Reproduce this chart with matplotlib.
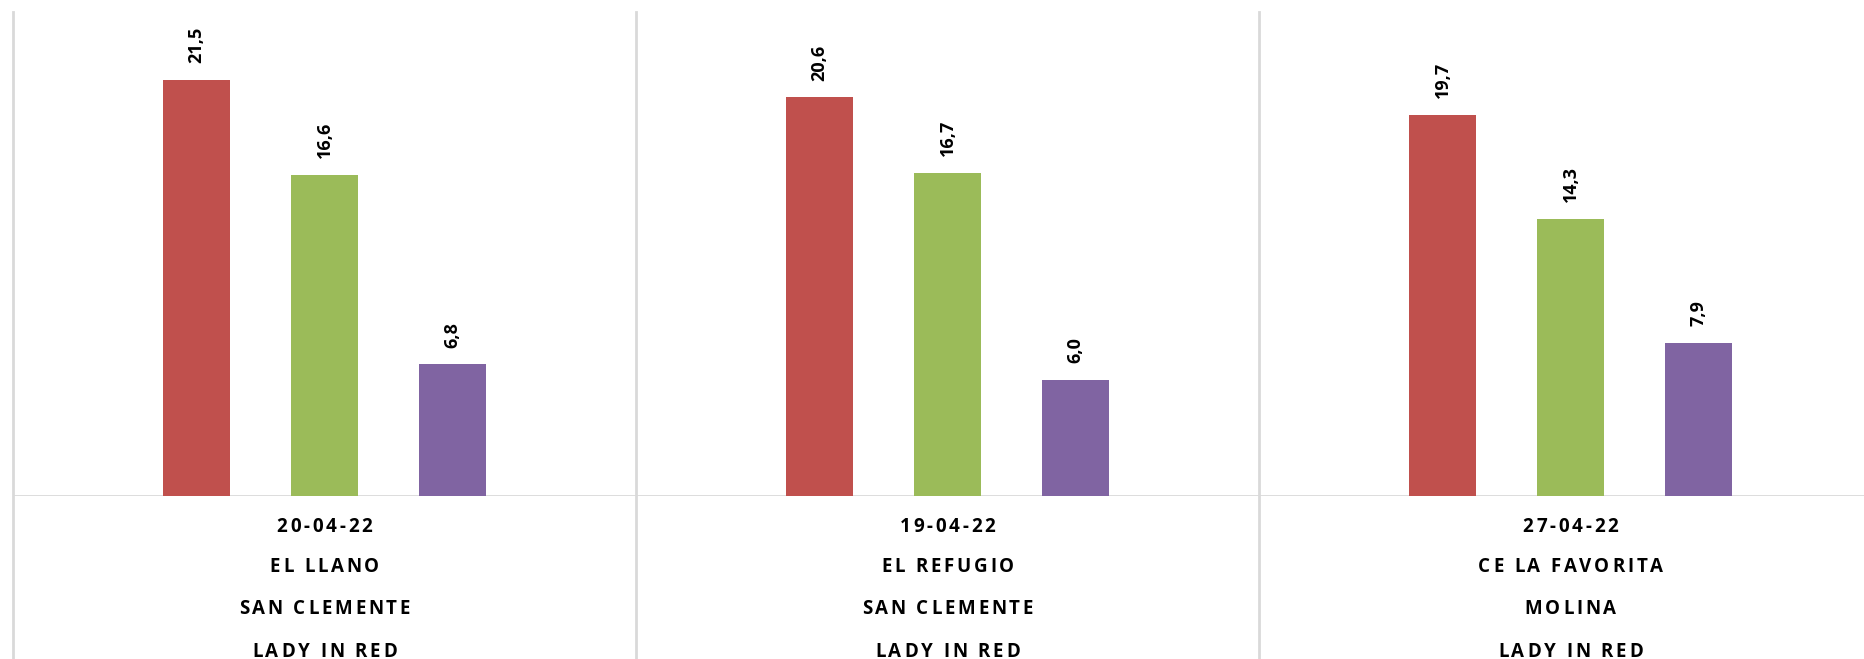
import matplotlib
matplotlib.use("Agg")
import matplotlib.pyplot as plt
import matplotlib.transforms as mtransforms
from matplotlib.font_manager import FontProperties
from matplotlib.lines import Line2D
import numpy as np

# ---- data ----
dates = ["20-04-22", "19-04-22", "27-04-22"]
places = ["EL LLANO", "EL REFUGIO", "CE LA FAVORITA"]
towns = ["SAN CLEMENTE", "SAN CLEMENTE", "MOLINA"]
varieties = ["LADY IN RED", "LADY IN RED", "LADY IN RED"]
series_red = [21.5, 20.6, 19.7]
series_green = [16.6, 16.7, 14.3]
series_purple = [6.8, 6.0, 7.9]

colors = ["#C0504D", "#9BBB59", "#8064A2"]
grid_col = "#D9D9D9"
FONT = ["Open Sans", "DejaVu Sans"]

W, H = 1865, 659
fig = plt.figure(figsize=(W / 100, H / 100), dpi=100)
fig.patch.set_facecolor("white")

left_px, right_px = 13, 1882
base_px, top_px = 496, 12
ax = fig.add_axes([left_px / W, (H - base_px) / H,
                   (right_px - left_px) / W, (base_px - top_px) / H])
ax.set_xlim(-0.5, 2.5)
ax.set_ylim(0, 25)
for s in ax.spines.values():
    s.set_visible(False)
ax.set_xticks([])
ax.set_yticks([])
ax.patch.set_alpha(0)

x = np.arange(len(dates))
step = 0.2055
width = 0.1075
all_series = [series_red, series_green, series_purple]
for i, (vals, col) in enumerate(zip(all_series, colors)):
    xs = x + (i - 1) * step
    ax.bar(xs, vals, width=width, color=col, edgecolor="none", zorder=3)
    for xi, v in zip(xs, vals):
        ax.annotate(f"{v:.1f}".replace(".", ","), (xi, v),
                    xytext=(0, 12), textcoords="offset points",
                    rotation=90, ha="center", va="bottom",
                    fontsize=13, fontweight="bold", color="black",
                    family=FONT)

# baseline
ax.axhline(0, color=grid_col, lw=2, zorder=2)

# vertical category separators extending through label area
bt = mtransforms.blended_transform_factory(ax.transData, fig.transFigure)
for xv in np.arange(-0.5, len(dates) + 0.5, 1.0):
    ax.add_line(Line2D([xv, xv], [0, 1 - top_px / H], transform=bt,
                       color=grid_col, lw=2, clip_on=False, zorder=1))

# letter-spaced category labels, drawn char by char
renderer = fig.canvas.get_renderer()
prop = FontProperties(family=FONT, weight="bold", size=13.5)
spacing_px = 2.8
cap_half = 7.0


def char_w(ch):
    if ch == " ":
        w1, _, _ = renderer.get_text_width_height_descent("a a", prop, ismath=False)
        w2, _, _ = renderer.get_text_width_height_descent("aa", prop, ismath=False)
        return w1 - w2
    w, _, _ = renderer.get_text_width_height_descent(ch, prop, ismath=False)
    return w


def spaced_text(xc, yc_px, s):
    widths = [char_w(c) for c in s]
    total = sum(widths) + spacing_px * (len(s) - 1)
    off = -total / 2.0
    ybase = 1 - (yc_px + cap_half) / H
    for c, w in zip(s, widths):
        if c != " ":
            tr = mtransforms.offset_copy(bt, fig=fig, x=off, y=0, units="dots")
            ax.text(xc, ybase, c, transform=tr, ha="left", va="baseline",
                    fontproperties=prop, color="black", clip_on=False)
        off += w + spacing_px


rows_y = [524.5, 565.5, 607, 649.7]
for i in range(len(dates)):
    for txt, yp in zip([dates[i], places[i], towns[i], varieties[i]], rows_y):
        spaced_text(x[i], yp, txt)

fig.savefig("out.png", dpi=100, facecolor="white")
